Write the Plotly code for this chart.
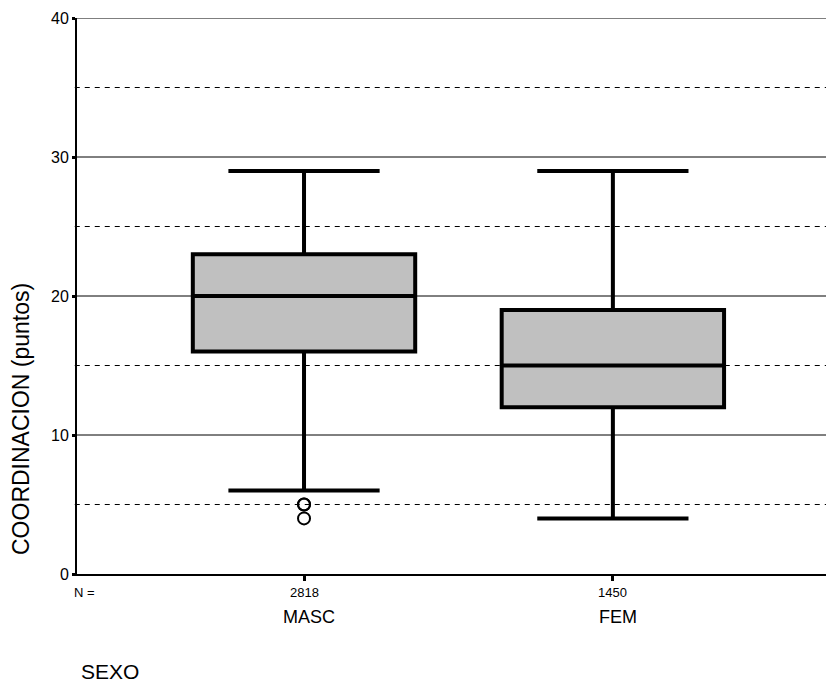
import plotly.graph_objects as go

categories = ["MASC", "FEM"]
counts = ["2818", "1450"]
q1 = [16, 12]
medians = [20, 15]
q3 = [23, 19]
lower_whisker = [6, 4]
upper_whisker = [29, 29]
outlier_x = ["MASC", "MASC", "MASC"]
outlier_y = [5, 5, 4]

solid_grid = [10, 20, 30, 40]
dashed_grid = [5, 15, 25, 35]
ytick_vals = [0, 10, 20, 30, 40]

FONT = "Liberation Sans, Arial, sans-serif"
L, T, PW, PH = 77, 18, 749, 556


def px_x(p):
    return (p - L) / PW


def px_y(p):
    return 1 - (p - T) / PH


fig = go.Figure()

fig.add_trace(go.Box(
    x=categories, q1=q1, median=medians, q3=q3,
    lowerfence=lower_whisker, upperfence=upper_whisker,
    fillcolor="#c0c0c0", line=dict(color="black", width=4),
    width=0.72, whiskerwidth=0.68, boxpoints=False,
    showlegend=False, hoverinfo="skip",
))

fig.add_trace(go.Scatter(
    x=outlier_x, y=outlier_y, mode="markers",
    marker=dict(symbol="circle-open", size=12, color="black", line=dict(width=2)),
    showlegend=False, hoverinfo="skip",
))

shapes = []
for v in solid_grid:
    shapes.append(dict(type="line", xref="paper", yref="y", x0=0, x1=1, y0=v, y1=v,
                       line=dict(color="black", width=1), layer="below"))
for v in dashed_grid:
    shapes.append(dict(type="line", xref="paper", yref="y", x0=-0.003, x1=1, y0=v, y1=v,
                       line=dict(color="black", width=1, dash="5px,5px"), layer="below"))

annotations = []
for c, n in zip(categories, counts):
    annotations.append(dict(x=c, xref="x", y=px_y(592), yref="paper", text=n, showarrow=False,
                            font=dict(family=FONT, size=13, color="black"), yanchor="middle"))
    annotations.append(dict(x=c, xref="x", y=px_y(617), yref="paper", text=c, showarrow=False,
                            xshift=5,
                            font=dict(family=FONT, size=18, color="black"), yanchor="middle"))
annotations.append(dict(x=px_x(72), xref="paper", y=px_y(592), yref="paper", text="N =", showarrow=False,
                        font=dict(family=FONT, size=13, color="black"), xanchor="left", yanchor="middle"))
annotations.append(dict(x=px_x(79), xref="paper", y=px_y(671), yref="paper", text="SEXO",
                        showarrow=False, xanchor="left", yanchor="middle",
                        font=dict(family=FONT, size=21, color="black")))
annotations.append(dict(x=px_x(21), xref="paper", y=px_y(419), yref="paper",
                        text="COORDINACION (puntos)", textangle=-90, showarrow=False,
                        xanchor="center", yanchor="middle",
                        font=dict(family=FONT, size=23, color="black")))

fig.update_layout(
    width=826, height=684,
    margin=dict(l=L, r=0, t=T, b=684 - T - PH),
    paper_bgcolor="white", plot_bgcolor="white",
    font=dict(family=FONT, color="black"),
    shapes=shapes, annotations=annotations,
    xaxis=dict(
        type="category", categoryorder="array", categoryarray=categories,
        range=[-0.735, 1.69], showgrid=False, zeroline=False,
        showline=True, linecolor="black", linewidth=2,
        ticks="outside", ticklen=5, tickwidth=3, tickcolor="black",
        showticklabels=False,
    ),
    yaxis=dict(
        range=[0, 40], tickvals=ytick_vals, showgrid=False, zeroline=False,
        showline=True, linecolor="black", linewidth=2,
        ticks="outside", ticklen=3, tickwidth=3, tickcolor="black",
        tickfont=dict(family=FONT, size=16, color="black"),
    ),
)

fig.write_html("out.html")
